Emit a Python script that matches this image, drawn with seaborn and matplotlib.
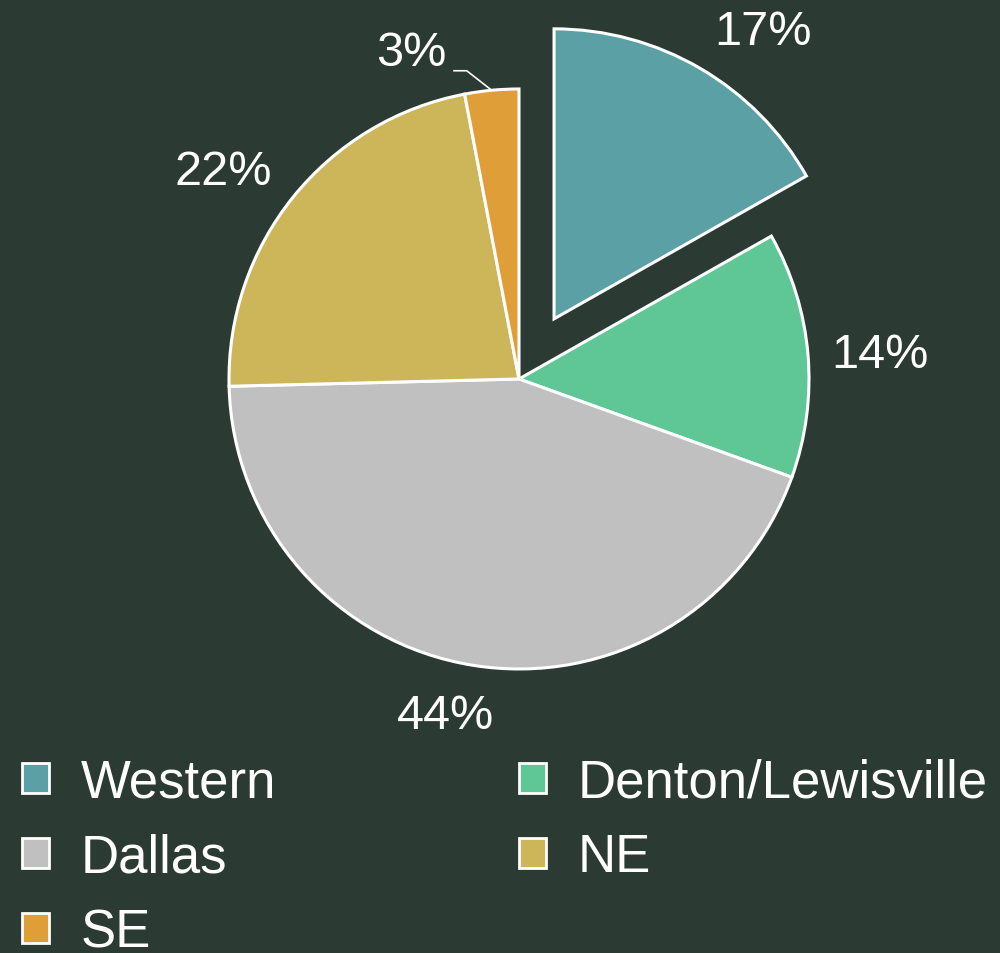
import numpy as np
import matplotlib
matplotlib.use("Agg")
import matplotlib.pyplot as plt
import matplotlib.patches as mpatches
import seaborn as sns

# Datos
regiones = ["Western", "Denton/Lewisville", "Dallas", "NE", "SE"]
porcentajes = [16.8, 13.7, 44.1, 22.4, 3.0]
colores = ["#5aa0a4", "#5ec795", "#c0c0c0", "#cdb659", "#e09e38"]
separacion = [0.24, 0, 0, 0, 0]
# pequeños ajustes de las etiquetas (en píxeles, x derecha / y abajo)
ajuste_etiquetas = [(29, 21), (6, 6), (-17, -16), (-18, 16), (0, 0)]

fondo = "#2b3a32"
sns.set_style("dark", {"axes.facecolor": fondo, "figure.facecolor": fondo})
plt.rcParams["font.family"] = ["Liberation Sans", "DejaVu Sans"]

fig = plt.figure(figsize=(10, 9.54), dpi=100)
ax = fig.add_axes([0.229, 0.2977, 0.58, 0.608])

wedges, textos, autotextos = ax.pie(
    porcentajes, colors=colores, explode=separacion, startangle=90,
    counterclock=False, autopct=lambda p: f"{p:.0f}%", pctdistance=1.23,
    wedgeprops=dict(edgecolor="white", linewidth=2.2),
    textprops=dict(color="white", fontsize=35))
ax.set_xlim(-1, 1)
ax.set_ylim(-1, 1)
ax.axis("off")
for w in wedges:
    w.set_clip_on(False)

# desplazar etiquetas unos píxeles
px = 2.0 / 580  # unidades de datos por píxel
for t, (dx, dy) in zip(autotextos, ajuste_etiquetas):
    x, y = t.get_position()
    t.set_position((x + dx * px, y - dy * px))

# Etiqueta pequeña (SE) con línea guía
i = regiones.index("SE")
autotextos[i].set_visible(False)
w = wedges[i]
ang = np.deg2rad((w.theta1 + w.theta2) / 2)
ax.annotate(f"{porcentajes[i]:.0f}%", xy=(np.cos(ang), np.sin(ang)),
            xytext=(-58, 27), textcoords="offset points",
            ha="center", va="center", color="white", fontsize=35,
            arrowprops=dict(arrowstyle="-", color="white", lw=1.2,
                            connectionstyle="angle,angleA=0,angleB=-38,rad=0",
                            relpos=(1.0, 0.1), shrinkA=3, shrinkB=0))

# Leyenda en filas: el orden por columnas de matplotlib se reordena
handles = [mpatches.Patch(facecolor=c, edgecolor="white", linewidth=2)
           for c in colores]
orden = [0, 2, 4, 1, 3]
fig.legend([handles[k] for k in orden], [regiones[k] for k in orden],
           ncol=2, loc="upper left", bbox_to_anchor=(-0.02, 0.249),
           frameon=False, fontsize=38, labelcolor="white",
           handlelength=0.5, handleheight=0.5, handletextpad=0.6,
           columnspacing=4.62, labelspacing=0.47, borderpad=0.3)

fig.savefig("out.png", dpi=100, facecolor=fondo)
